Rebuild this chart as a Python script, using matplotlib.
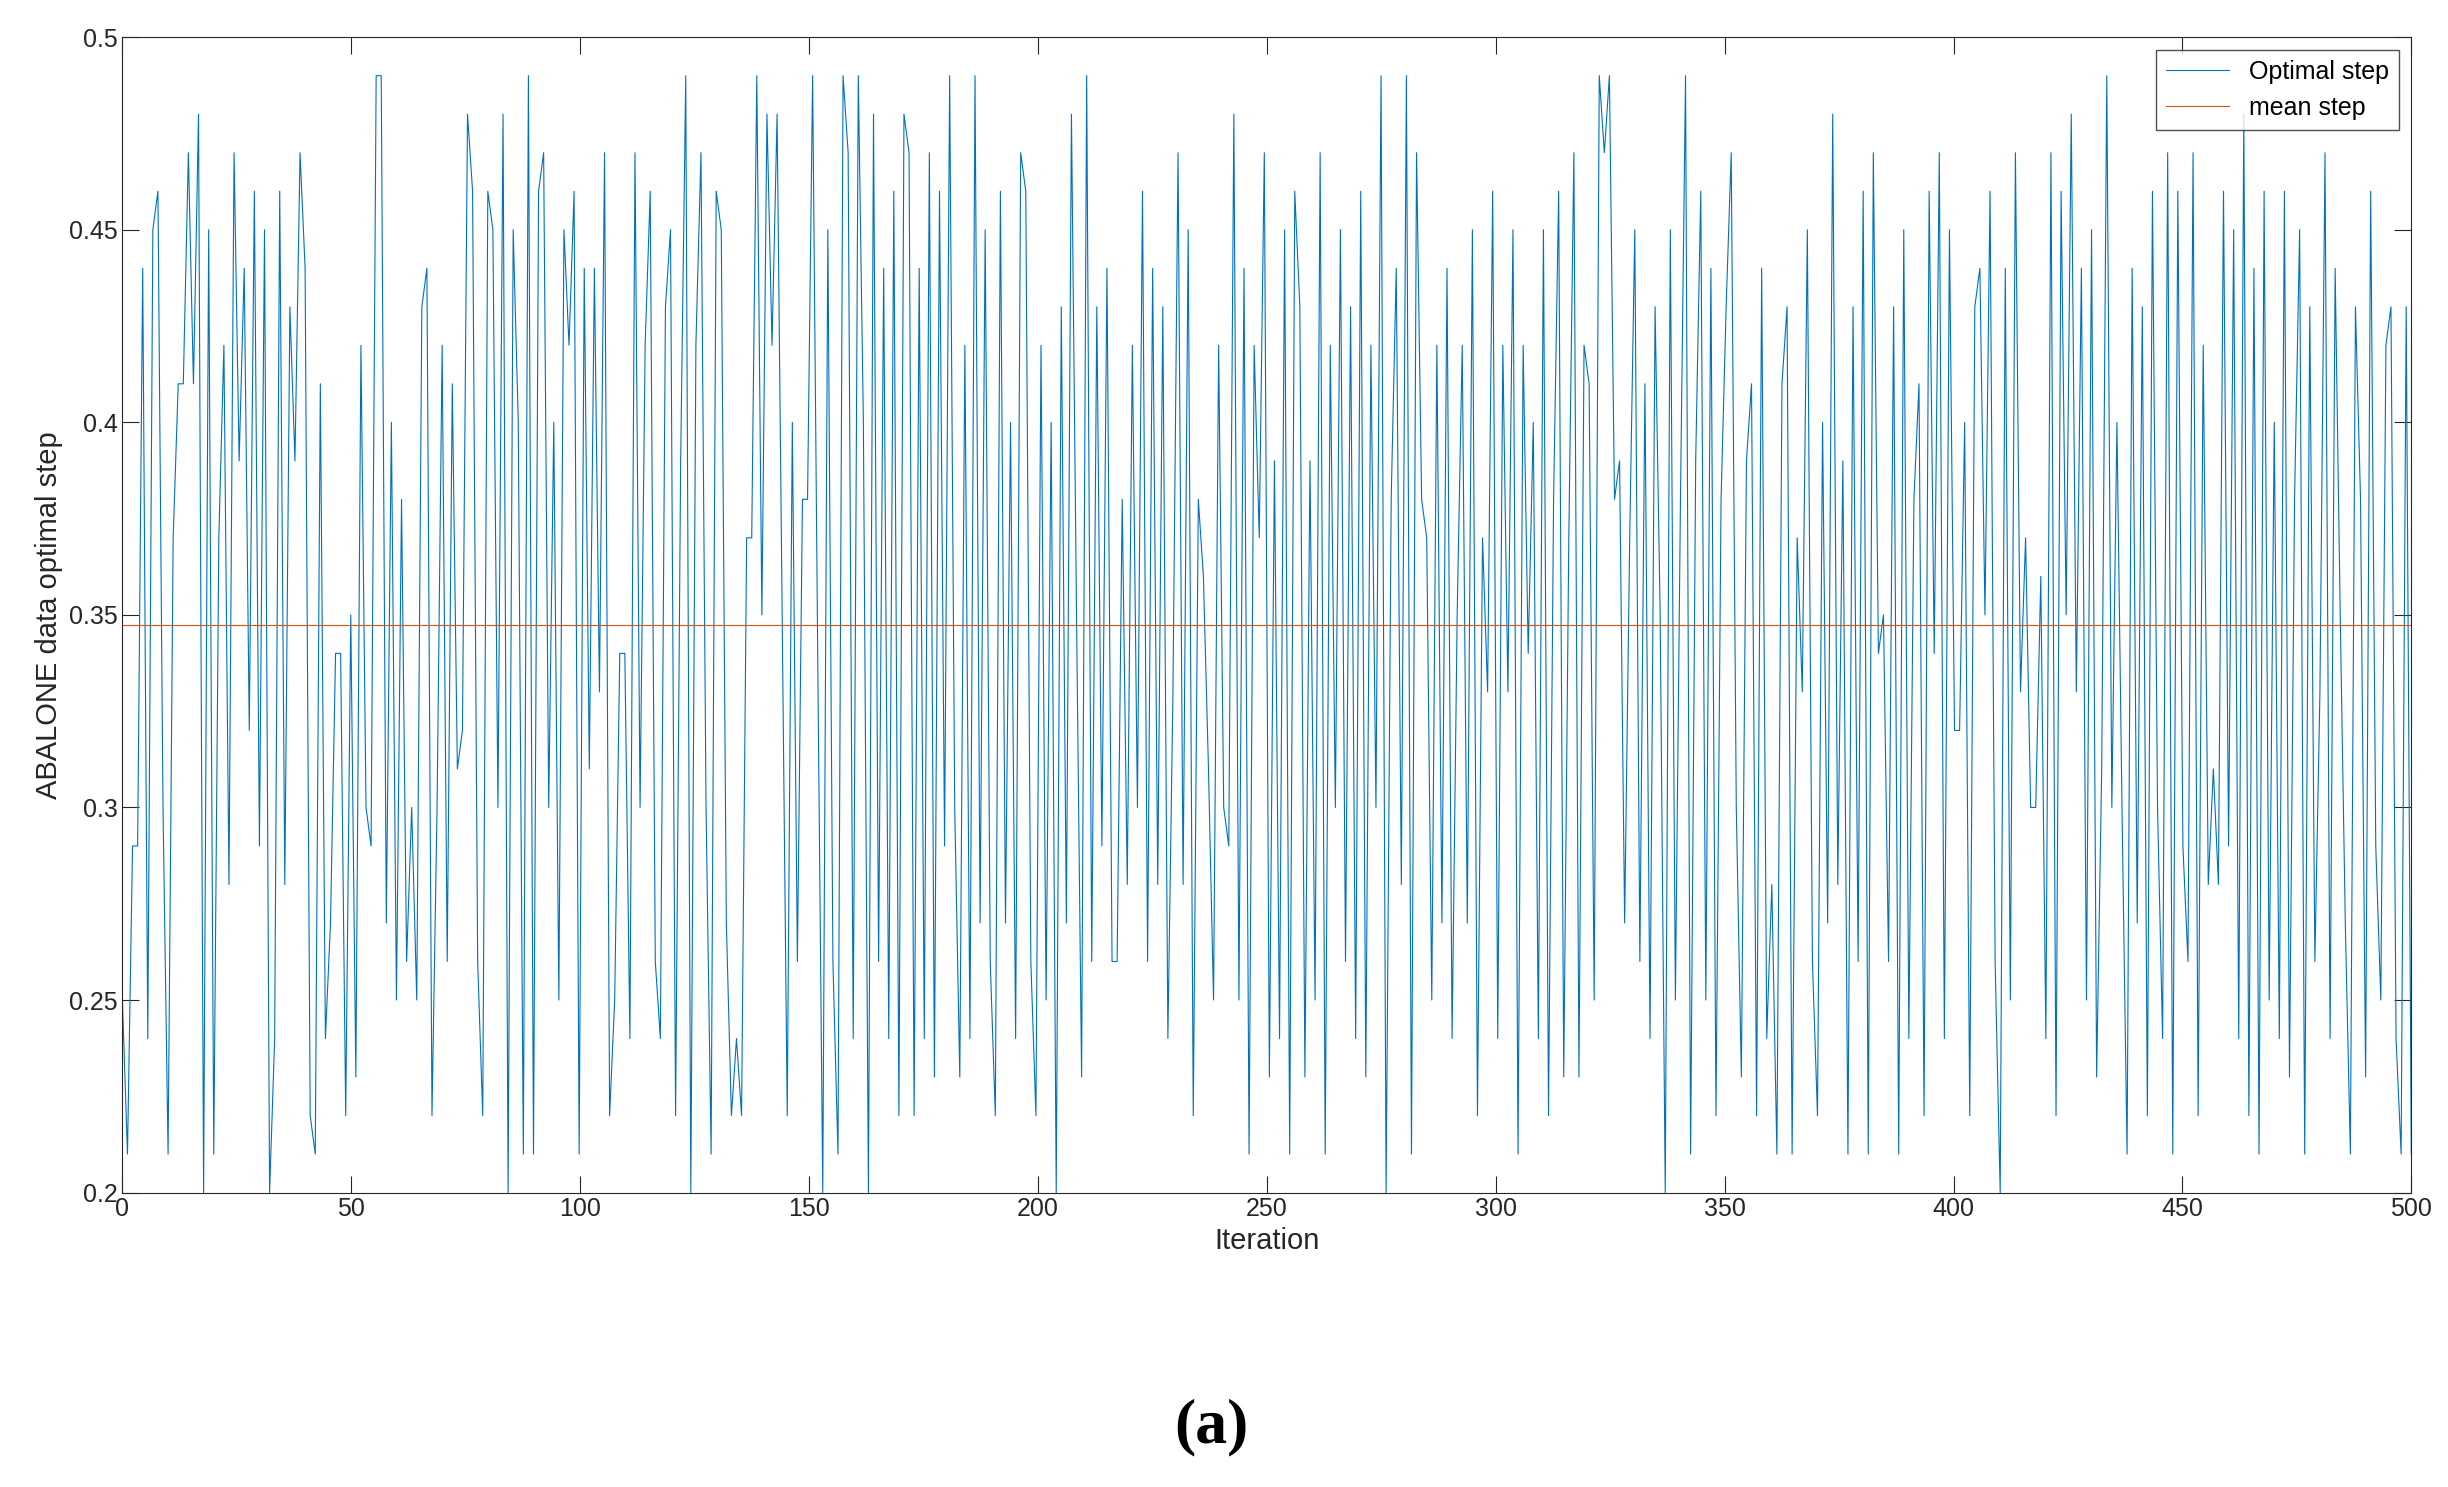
import numpy as np
import matplotlib.pyplot as plt

# Optimal step per iteration (values estimated from the figure)
optimal_step = [
    0.25, 0.21, 0.29, 0.29, 0.44, 0.24, 0.45, 0.46, 0.30, 0.21, 0.37, 0.41, 0.41, 0.47, 0.41, 0.48, 0.20, 0.45, 0.21, 0.37, 0.42, 0.28, 0.47, 0.39, 0.44,
    0.32, 0.46, 0.29, 0.45, 0.20, 0.24, 0.46, 0.28, 0.43, 0.39, 0.47, 0.44, 0.22, 0.21, 0.41, 0.24, 0.27, 0.34, 0.34, 0.22, 0.35, 0.23, 0.42, 0.30, 0.29,
    0.49, 0.49, 0.27, 0.40, 0.25, 0.38, 0.26, 0.30, 0.25, 0.43, 0.44, 0.22, 0.30, 0.42, 0.26, 0.41, 0.31, 0.32, 0.48, 0.46, 0.26, 0.22, 0.46, 0.45, 0.30,
    0.48, 0.20, 0.45, 0.40, 0.21, 0.49, 0.21, 0.46, 0.47, 0.30, 0.40, 0.25, 0.45, 0.42, 0.46, 0.21, 0.44, 0.31, 0.44, 0.33, 0.47, 0.22, 0.25, 0.34, 0.34,
    0.24, 0.47, 0.30, 0.42, 0.46, 0.26, 0.24, 0.43, 0.45, 0.22, 0.39, 0.49, 0.20, 0.42, 0.47, 0.30, 0.21, 0.46, 0.45, 0.27, 0.22, 0.24, 0.22, 0.37, 0.37,
    0.49, 0.35, 0.48, 0.42, 0.48, 0.35, 0.22, 0.40, 0.26, 0.38, 0.38, 0.49, 0.34, 0.20, 0.45, 0.26, 0.21, 0.49, 0.47, 0.24, 0.49, 0.40, 0.20, 0.48, 0.26,
    0.44, 0.24, 0.46, 0.22, 0.48, 0.47, 0.22, 0.44, 0.24, 0.47, 0.23, 0.46, 0.29, 0.49, 0.30, 0.23, 0.42, 0.24, 0.49, 0.27, 0.45, 0.26, 0.22, 0.46, 0.27,
    0.40, 0.24, 0.47, 0.46, 0.26, 0.22, 0.42, 0.25, 0.40, 0.20, 0.43, 0.27, 0.48, 0.35, 0.23, 0.49, 0.26, 0.43, 0.29, 0.44, 0.26, 0.26, 0.38, 0.28, 0.42,
    0.30, 0.46, 0.26, 0.44, 0.28, 0.43, 0.24, 0.33, 0.47, 0.28, 0.45, 0.22, 0.38, 0.36, 0.31, 0.25, 0.42, 0.30, 0.29, 0.48, 0.25, 0.44, 0.21, 0.42, 0.37,
    0.47, 0.23, 0.39, 0.24, 0.45, 0.21, 0.46, 0.43, 0.23, 0.39, 0.25, 0.47, 0.21, 0.42, 0.30, 0.45, 0.26, 0.43, 0.24, 0.46, 0.23, 0.42, 0.30, 0.49, 0.20,
    0.38, 0.44, 0.28, 0.49, 0.21, 0.47, 0.38, 0.37, 0.25, 0.42, 0.27, 0.44, 0.24, 0.35, 0.42, 0.27, 0.45, 0.22, 0.37, 0.33, 0.46, 0.24, 0.42, 0.33, 0.45,
    0.21, 0.42, 0.34, 0.40, 0.24, 0.45, 0.22, 0.38, 0.46, 0.23, 0.37, 0.47, 0.23, 0.42, 0.41, 0.25, 0.49, 0.47, 0.49, 0.38, 0.39, 0.27, 0.37, 0.45, 0.26,
    0.41, 0.24, 0.43, 0.35, 0.20, 0.45, 0.25, 0.38, 0.49, 0.21, 0.39, 0.46, 0.25, 0.44, 0.22, 0.38, 0.43, 0.47, 0.30, 0.23, 0.39, 0.41, 0.22, 0.44, 0.24,
    0.28, 0.21, 0.41, 0.43, 0.21, 0.37, 0.33, 0.45, 0.26, 0.22, 0.40, 0.27, 0.48, 0.28, 0.39, 0.21, 0.43, 0.26, 0.46, 0.21, 0.47, 0.34, 0.35, 0.26, 0.43,
    0.21, 0.45, 0.24, 0.38, 0.41, 0.22, 0.46, 0.34, 0.47, 0.24, 0.45, 0.32, 0.32, 0.40, 0.22, 0.43, 0.44, 0.35, 0.46, 0.26, 0.20, 0.44, 0.25, 0.47, 0.33,
    0.37, 0.30, 0.30, 0.36, 0.24, 0.47, 0.22, 0.46, 0.35, 0.48, 0.33, 0.44, 0.25, 0.45, 0.23, 0.31, 0.49, 0.30, 0.40, 0.30, 0.21, 0.44, 0.27, 0.43, 0.22,
    0.46, 0.30, 0.24, 0.47, 0.21, 0.46, 0.29, 0.26, 0.47, 0.22, 0.42, 0.28, 0.31, 0.28, 0.46, 0.29, 0.45, 0.24, 0.48, 0.22, 0.44, 0.21, 0.46, 0.25, 0.40,
    0.24, 0.46, 0.23, 0.38, 0.45, 0.21, 0.43, 0.26, 0.33, 0.47, 0.24, 0.44, 0.35, 0.27, 0.21, 0.43, 0.38, 0.23, 0.46, 0.29, 0.25, 0.42, 0.43, 0.24, 0.21,
    0.43, 0.21,
]
iteration = np.linspace(0, 500, len(optimal_step))
mean_step = 0.3475

blue = '#0072BD'
orange = '#D95319'

plt.rcParams['font.family'] = ['Liberation Sans', 'DejaVu Sans']

fig = plt.figure(figsize=(24.48, 14.87), dpi=100)
ax = fig.add_axes([0.05, 0.198, 0.935, 0.777])
ax.plot(iteration, optimal_step, color=blue, linewidth=0.8, label='Optimal step')
ax.plot([0, 500], [mean_step, mean_step], color=orange, linewidth=0.8, label='mean step')

ax.set_xlim(0, 500)
ax.set_ylim(0.2, 0.5)
ax.set_xticks(np.arange(0, 501, 50))
ax.set_yticks([0.2, 0.25, 0.3, 0.35, 0.4, 0.45, 0.5])
ax.set_yticklabels(['0.2', '0.25', '0.3', '0.35', '0.4', '0.45', '0.5'])
ax.tick_params(direction='in', top=True, right=True, length=12, labelsize=18, colors='#262626')
for s in ax.spines.values():
    s.set_color('#262626')
ax.set_xlabel('Iteration', fontsize=21, color='#262626')
ax.set_ylabel('ABALONE data optimal step', fontsize=21, color='#262626')
leg = ax.legend(loc='upper right', fontsize=18, fancybox=False, edgecolor='#262626', handlelength=2.5)
leg.get_frame().set_linewidth(1.0)

fig.text(0.495, 0.04, '(a)', fontsize=46, fontweight='bold', family='Liberation Serif', ha='center', va='center')

fig.savefig('out.png')
